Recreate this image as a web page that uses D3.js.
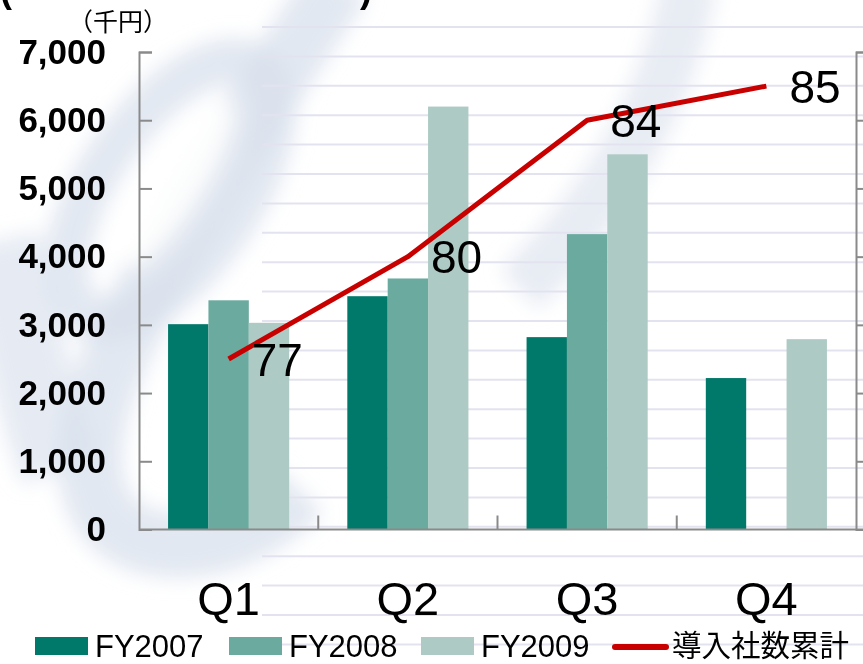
<!DOCTYPE html>
<html><head><meta charset="utf-8">
<script src="https://cdn.jsdelivr.net/npm/d3@7"></script>
<style>
html,body{margin:0;padding:0;background:#fff;}
svg{display:block;}
text{font-family:"Liberation Sans",Arial,sans-serif;}
.cjk{font-family:"Noto Sans CJK JP","Noto Sans CJK SC",sans-serif;}
</style></head>
<body>
<svg id="chart" width="863" height="664"></svg>
<script>
// ---- data ----
const quarters = ["Q1","Q2","Q3","Q4"];
const seriesNames = ["FY2007","FY2008","FY2009"];
const fy2007 = [3010, 3420, 2820, 2220];
const fy2008 = [3360, 3680, 4330, null];
const fy2009 = [3030, 6200, 5500, 2790];
const companies = [77, 80, 84, 85];
const lineName = "導入社数累計";
const yTicks = [0,1000,2000,3000,4000,5000,6000,7000];
const yUnit = "（千円）";
const colors = ["#00786a","#6aaa9f","#adcac5"];
const lineColor = "#c80000";

(function(){
const svg = d3.select("#chart");
const W = 863, H = 664;

// ---- background decoration (watermark + stripes) ----
const defs = svg.append("defs");
defs.append("filter").attr("id","blur").attr("x","-50%").attr("y","-50%").attr("width","200%").attr("height","200%")
  .append("feGaussianBlur").attr("stdDeviation", 10);
const wm = svg.append("g").attr("filter","url(#blur)");
wm.append("path")
  .attr("d","M 340,-20 C 270,90 170,230 110,370 C 70,470 90,540 170,545 C 230,548 270,520 300,490")
  .attr("fill","none").attr("stroke","#d8e0ec").attr("stroke-width",65).attr("opacity",0.75);
wm.append("ellipse").attr("cx",170).attr("cy",190).attr("rx",150).attr("ry",70)
  .attr("transform","rotate(-55 170 190)")
  .attr("fill","none").attr("stroke","#d8e0ec").attr("stroke-width",45).attr("opacity",0.75);
wm.append("path")
  .attr("d","M 690,-20 C 670,90 620,190 520,290")
  .attr("fill","none").attr("stroke","#e2e7f0").attr("stroke-width",55).attr("opacity",0.8);
wm.append("path")
  .attr("d","M 0,240 C 20,330 40,420 60,470")
  .attr("fill","none").attr("stroke","#d8e0ec").attr("stroke-width",80).attr("opacity",0.65);
wm.append("ellipse").attr("cx",180).attr("cy",185).attr("rx",95).attr("ry",22)
  .attr("transform","rotate(-58 180 185)").attr("fill","#ffffff").attr("opacity",0.9);

const stripes = svg.append("g");
for (let i = 0; i < 22; i++) {
  const yy = 27 + i * 29.4;
  stripes.append("line").attr("x1",262).attr("x2",W).attr("y1",yy).attr("y2",yy)
    .attr("stroke","#e3e3f0").attr("stroke-width",2);
}

// ---- scales ----
const pL = 139, pR = 856, pT = 52, pB = 529.5;
const x0 = d3.scaleBand().domain(quarters).range([pL, pR]).paddingInner(0).paddingOuter(0);
const x1 = d3.scaleBand().domain(seriesNames).range([0, x0.bandwidth()]).paddingInner(0).paddingOuter(0.72);
const y = d3.scaleLinear().domain([0, 7000]).range([pB, pT]);
const yR = d3.scaleLinear().domain([72, 86]).range([pB, pT]);

// ---- bars ----
const seriesVals = [fy2007, fy2008, fy2009];
const rows = [];
quarters.forEach((q, qi) => seriesNames.forEach((s, si) => {
  const v = seriesVals[si][qi];
  if (v != null) rows.push({q, s, si, v});
}));
svg.append("g").selectAll("rect").data(rows).join("rect")
  .attr("x", d => x0(d.q) + x1(d.s))
  .attr("width", x1.bandwidth())
  .attr("y", d => y(d.v))
  .attr("height", d => y(0) - y(d.v))
  .attr("fill", d => colors[d.si]);

// ---- axes ----
const axisColor = "#8a8a8a";
const gL = svg.append("g").attr("transform", `translate(${pL},0)`)
  .call(d3.axisLeft(y).tickValues(yTicks).tickSize(-13).tickPadding(33).tickFormat(d3.format(",")));
gL.select(".domain").attr("stroke", axisColor).attr("stroke-width", 2);
gL.selectAll(".tick line").attr("stroke", axisColor).attr("stroke-width", 2);
gL.selectAll(".tick text").attr("fill","#000").attr("font-size", 35).attr("font-weight","bold")
  .attr("font-family","\"Liberation Sans\",Arial,sans-serif");

const gR = svg.append("g").attr("transform", `translate(${pR},0)`)
  .call(d3.axisRight(yR).tickValues([72,74,76,78,80,82,84,86]).tickSize(9).tickFormat(""));
gR.select(".domain").attr("stroke", axisColor).attr("stroke-width", 2);
gR.selectAll(".tick line").attr("stroke", axisColor).attr("stroke-width", 2);

const gB = svg.append("g").attr("transform", `translate(0,${pB})`)
  .call(d3.axisBottom(x0).tickSize(0).tickPadding(52));
gB.select(".domain").remove();
gB.selectAll(".tick text").attr("fill","#000").attr("font-size", 47)
  .attr("font-family","\"Liberation Sans\",Arial,sans-serif");
svg.append("line").attr("x1", pL).attr("x2", W).attr("y1", pB).attr("y2", pB)
  .attr("stroke", axisColor).attr("stroke-width", 2);
svg.append("g").selectAll("line").data(quarters.slice(1)).join("line")
  .attr("x1", d => x0(d)).attr("x2", d => x0(d))
  .attr("y1", pB).attr("y2", pB - 14)
  .attr("stroke", axisColor).attr("stroke-width", 2);

// ---- line ----
const cx = q => x0(q) + x0.bandwidth() / 2;
const lineData = quarters.map((q, i) => ({q, v: companies[i]}));
svg.append("path").datum(lineData)
  .attr("d", d3.line().x(d => cx(d.q)).y(d => yR(d.v)))
  .attr("fill","none").attr("stroke", lineColor).attr("stroke-width", 5)
  .attr("stroke-linejoin","round");
svg.append("g").selectAll("text").data(lineData).join("text")
  .attr("x", d => cx(d.q) + 23).attr("y", d => yR(d.v)).attr("dy","0.36em")
  .attr("font-size", 46).attr("fill","#000").text(d => d.v);

// ---- unit + cut-off title ----
svg.append("text").attr("class","cjk").attr("x", 68).attr("y", 31)
  .attr("font-size", 25).attr("fill","#000").text(yUnit);
svg.append("text").attr("x", 0).attr("y", 2).attr("font-size", 36).attr("font-weight","bold").text("(");
svg.append("text").attr("x", 360).attr("y", 2).attr("font-size", 36).attr("font-weight","bold").text(")");

// ---- legend ----
const leg = svg.append("g");
const legX = [35, 229, 421];
seriesNames.forEach((s, i) => {
  leg.append("rect").attr("x", legX[i]).attr("y", 637).attr("width", 53).attr("height", 18).attr("fill", colors[i]);
  leg.append("text").attr("x", legX[i] + 60).attr("y", 657).attr("font-size", 31).attr("fill","#000").text(s);
});
leg.append("line").attr("x1", 615).attr("x2", 666).attr("y1", 647).attr("y2", 647)
  .attr("stroke", lineColor).attr("stroke-width", 6).attr("stroke-linecap","round");
leg.append("text").attr("class","cjk").attr("x", 672).attr("y", 656).attr("font-size", 29.5)
  .attr("fill","#000").text(lineName);
})();
</script>
</body></html>
